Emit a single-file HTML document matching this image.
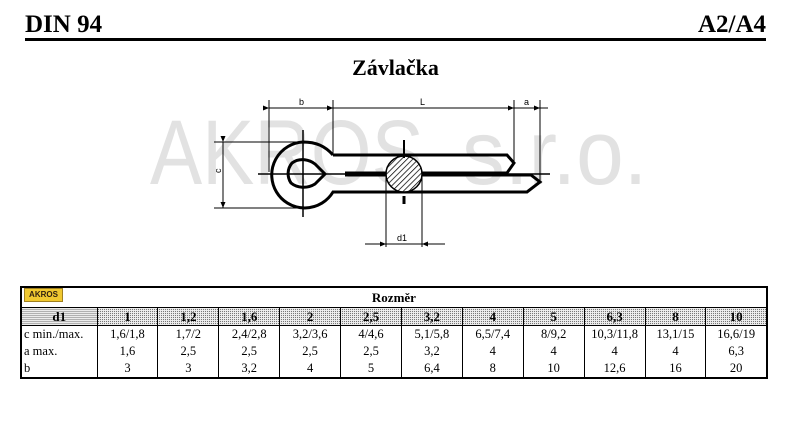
<!DOCTYPE html>
<html><head><meta charset="utf-8"><style>
body{margin:0;width:791px;height:432px;background:#fff;position:relative;overflow:hidden;font-family:"Liberation Serif",serif}
.a{position:absolute}
.w{position:absolute;font-family:'Liberation Sans',sans-serif;font-size:92px;line-height:92px;color:#e2e2e2;white-space:nowrap;transform:scaleX(0.85);transform-origin:left top}
table{position:absolute;left:20px;top:286px;width:746px;border-collapse:collapse;border:2px solid #000;font-size:12.5px;table-layout:fixed}
td{padding:0;text-align:center;border-left:1px solid #000;height:17px;line-height:17px;overflow:hidden;white-space:nowrap}
tr.h td{height:19px;text-align:center;font-weight:bold;font-size:13px;border-bottom:1px solid #000}
tr.d td{background-color:#eee;background-image:radial-gradient(#777 0.6px,transparent 0.8px);background-size:2px 2px;font-weight:bold;font-size:13px;border-bottom:1px solid #000;height:17px}
td.l{text-align:left;padding-left:2px}
</style></head><body>
<div class="a" style="left:25px;top:11px;font-size:25px;font-weight:bold">DIN 94</div>
<div class="a" style="right:25px;top:11px;font-size:25px;font-weight:bold">A2/A4</div>
<div class="a" style="left:25px;top:38px;width:741px;height:3px;background:#000"></div>
<div class="a" style="left:0;width:791px;top:55px;text-align:center;font-size:22px;font-weight:bold">Závlačka</div>
<div class="w" style="left:150px;top:107px">AKROS</div>
<div class="w" style="left:462px;top:107px;transform:scaleX(0.93)">s.r.o.</div>
<svg class="a" style="left:0;top:0" width="791" height="280">
<defs><pattern id="hp" width="4" height="4" patternUnits="userSpaceOnUse" patternTransform="rotate(45)"><rect width="4" height="4" fill="#fff"/><line x1="0" y1="0" x2="0" y2="4" stroke="#000" stroke-width="1.5"/></pattern>
<marker id="ar" markerWidth="6" markerHeight="5" refX="6" refY="2.5" orient="auto" markerUnits="userSpaceOnUse"><path d="M0,0L6,2.5L0,5z"/></marker></defs>
<g stroke="#000" stroke-width="1" fill="none">
<line x1="269" y1="100" x2="269" y2="172"/><line x1="333" y1="100" x2="333" y2="155"/>
<line x1="514" y1="100" x2="514" y2="162"/><line x1="540" y1="100" x2="540" y2="182"/>
<line x1="269" y1="108" x2="333" y2="108" marker-start="url(#ar)" marker-end="url(#ar)"/>
<line x1="333" y1="108" x2="514" y2="108" marker-start="url(#ar)" marker-end="url(#ar)"/>
<line x1="514" y1="108" x2="540" y2="108" marker-end="url(#ar)"/><line x1="540" y1="108" x2="548" y2="108"/>
<line x1="214" y1="142" x2="303" y2="142"/><line x1="214" y1="208" x2="303" y2="208"/>
<line x1="223" y1="142" x2="223" y2="208" marker-start="url(#ar)" marker-end="url(#ar)"/>
<line x1="386" y1="175" x2="386" y2="247"/><line x1="422" y1="175" x2="422" y2="247"/>
<line x1="365" y1="244" x2="386" y2="244" marker-end="url(#ar)"/><line x1="445" y1="244" x2="422" y2="244" marker-end="url(#ar)"/>
<line x1="386" y1="244" x2="422" y2="244"/>
<line x1="258" y1="174" x2="550" y2="174" stroke-width="1.5"/>
<line x1="303" y1="130" x2="303" y2="217" stroke-width="1.5"/>
</g>
<g stroke="#000" stroke-width="3" fill="none" stroke-linejoin="miter">
<path d="M333,155 C325,146 316,142 303,142 A33,33 0 1 0 333,192 L527,192 L540,182 L531,175 L345,175"/>
<path d="M333,155 L507,155 L514,163 L507,173 L345,173"/>
<path d="M292,163 C300,157 310,160 315,164 L325,174 L315,184 C307,189 297,188 291,183 C287,177 287,169 292,163z"/>
</g>
<circle cx="404" cy="174" r="18" fill="url(#hp)" stroke="#000" stroke-width="1.5"/>
<line x1="404" y1="140" x2="404" y2="158" stroke="#000" stroke-width="2"/>
<line x1="404" y1="196" x2="404" y2="204" stroke="#000" stroke-width="3"/>
<g font-family="Liberation Sans,sans-serif" font-size="9">
<text x="299" y="105">b</text><text x="420" y="105">L</text><text x="524" y="105">a</text>
<text x="397" y="241">d1</text>
<text x="220" y="178" transform="rotate(-90 218 175)">c</text>
</g>
</svg>
<div class="a" style="left:24px;top:288px;width:37px;height:12px;background:#f0c830;border:1px solid #a08020;font:bold 8px 'Liberation Sans',sans-serif;line-height:12px;text-align:center;color:#302010;z-index:2">AKROS</div>
<table>
<colgroup><col style="width:76px"><col span="11" style="width:60.9px"></colgroup>
<tr class="h"><td colspan="12" style="border-left:none">Rozměr</td></tr>
<tr class="d"><td style="border-left:none">d1</td><td>1</td><td>1,2</td><td>1,6</td><td>2</td><td>2,5</td><td>3,2</td><td>4</td><td>5</td><td>6,3</td><td>8</td><td>10</td></tr>
<tr><td class="l" style="border-left:none">c min./max.</td><td>1,6/1,8</td><td>1,7/2</td><td>2,4/2,8</td><td>3,2/3,6</td><td>4/4,6</td><td>5,1/5,8</td><td>6,5/7,4</td><td>8/9,2</td><td>10,3/11,8</td><td>13,1/15</td><td>16,6/19</td></tr>
<tr><td class="l" style="border-left:none">a max.</td><td>1,6</td><td>2,5</td><td>2,5</td><td>2,5</td><td>2,5</td><td>3,2</td><td>4</td><td>4</td><td>4</td><td>4</td><td>6,3</td></tr>
<tr><td class="l" style="border-left:none">b</td><td>3</td><td>3</td><td>3,2</td><td>4</td><td>5</td><td>6,4</td><td>8</td><td>10</td><td>12,6</td><td>16</td><td>20</td></tr>
</table>
</body></html>
